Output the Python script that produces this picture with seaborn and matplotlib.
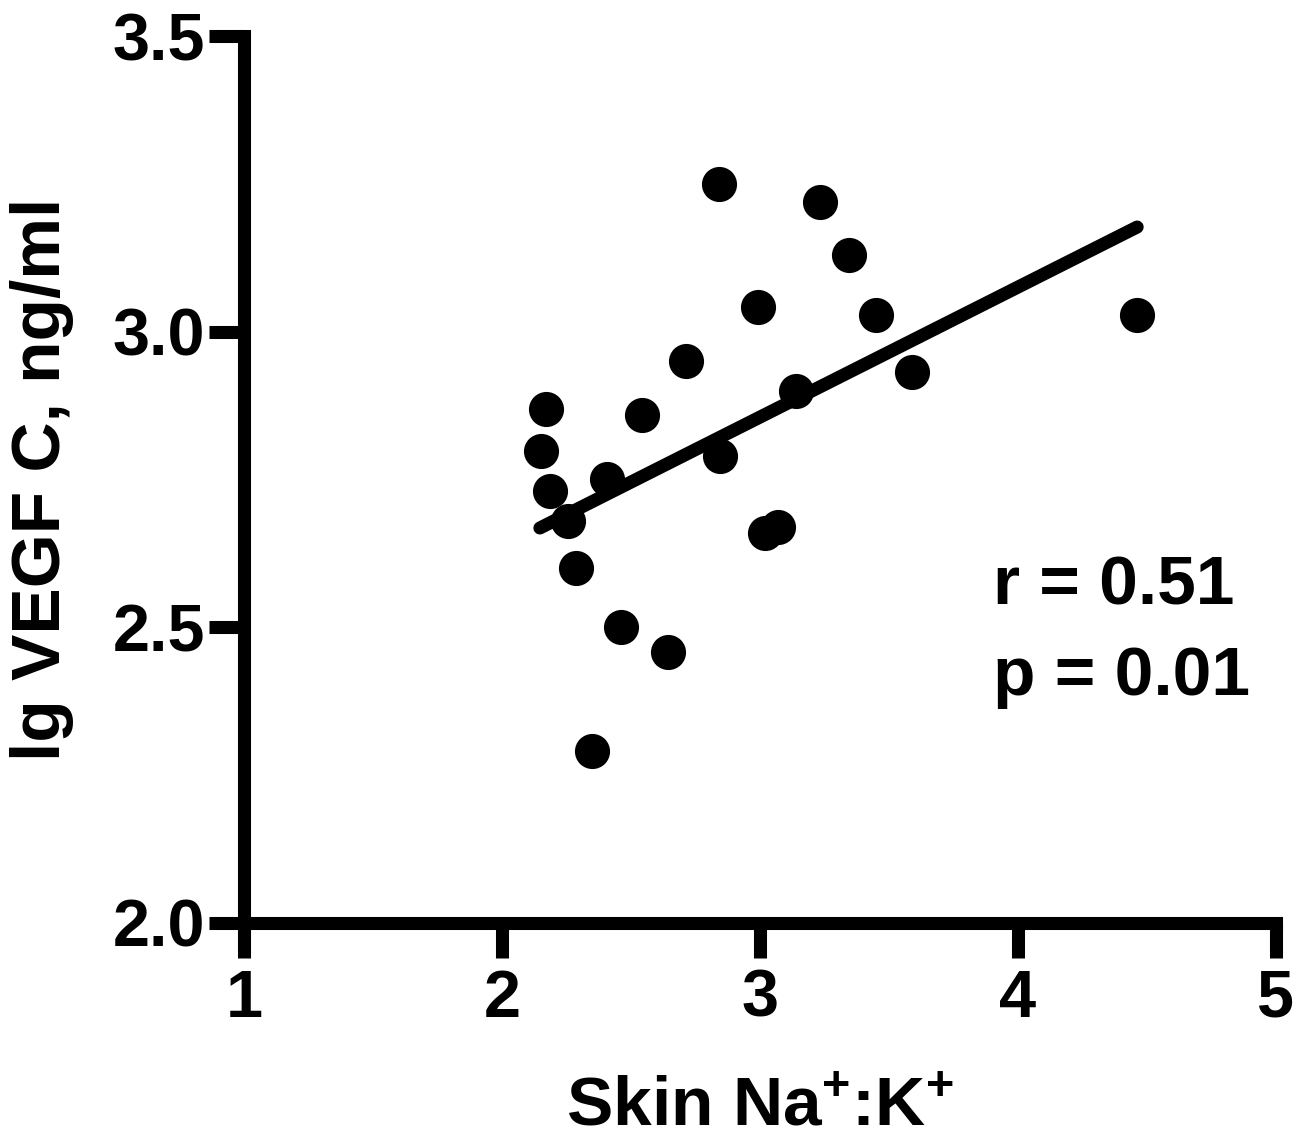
import pandas as pd
import matplotlib
matplotlib.use("Agg")
import matplotlib.pyplot as plt
import seaborn as sns

# --- Data ---
skin_na_k = [2.842, 3.233, 3.345, 2.991, 3.450, 4.461, 2.713, 3.590, 3.140, 2.172, 2.544,
             2.151, 2.845, 2.408, 2.185, 2.255, 3.019, 3.069, 2.287, 2.461, 2.642, 2.349]
lg_vegf_c = [3.250, 3.220, 3.129, 3.041, 3.029, 3.029, 2.950, 2.931, 2.900, 2.870, 2.859,
             2.799, 2.790, 2.751, 2.731, 2.680, 2.660, 2.670, 2.601, 2.501, 2.459, 2.291]
# regression line as drawn in the figure (ends at min / max x)
fit_x = [2.147, 4.462]
fit_y = [2.668, 3.177]
x_ticks = [1, 2, 3, 4, 5]
y_ticks = [2.0, 2.5, 3.0, 3.5]
stats_text = ["r = 0.51", "p = 0.01"]

df = pd.DataFrame({"skin": skin_na_k, "vegf": lg_vegf_c})
df_fit = pd.DataFrame({"skin": fit_x, "vegf": fit_y})

sns.set_style("ticks")
plt.rcParams['font.family'] = ['Liberation Sans', 'DejaVu Sans']
plt.rcParams['font.weight'] = 'bold'
plt.rcParams['text.color'] = 'black'
plt.rcParams['axes.labelcolor'] = 'black'
plt.rcParams['xtick.color'] = 'black'
plt.rcParams['ytick.color'] = 'black'
plt.rcParams['mathtext.fontset'] = 'custom'
plt.rcParams['mathtext.rm'] = 'Liberation Sans:bold'
plt.rcParams['mathtext.bf'] = 'Liberation Sans:bold'
plt.rcParams['mathtext.default'] = 'bf'

LW = 9.4

fig = plt.figure(figsize=(13.13, 11.44), dpi=100)
ax = fig.add_axes([0.1858, 0.1932, 0.9718 - 0.1858, 0.9685 - 0.1932])

sns.scatterplot(data=df, x="skin", y="vegf", ax=ax, s=640, color="black",
                linewidth=0, zorder=3, legend=False)
sns.lineplot(data=df_fit, x="skin", y="vegf", ax=ax, color="black", lw=LW,
             solid_capstyle="round", zorder=4)

ax.set_xlim(1, 5)
ax.set_ylim(2.0, 3.5)
ax.set_xticks(x_ticks)
ax.set_xticklabels([str(t) for t in x_ticks])
ax.set_yticks(y_ticks)
ax.set_yticklabels([f"{t:.1f}" for t in y_ticks])

for side in ["top", "right"]:
    ax.spines[side].set_visible(False)
for side in ["left", "bottom"]:
    ax.spines[side].set_linewidth(LW)
    ax.spines[side].set_color("black")
    ax.spines[side].set_capstyle("projecting")

ax.tick_params(axis="both", length=25, width=LW, color="black", labelsize=48, labelcolor="black")
ax.tick_params(axis="x", pad=8)
ax.tick_params(axis="y", pad=3)
for lab in ax.get_xticklabels() + ax.get_yticklabels():
    lab.set_fontweight("bold")

ax.set_xlabel(r"Skin Na$^{+}$:K$^{+}$", fontsize=50, fontweight="bold", labelpad=32)
ax.set_ylabel("lg VEGF C, ng/ml", fontsize=50, fontweight="bold", labelpad=28)

ax.text(3.903, 2.538, stats_text[0], fontsize=50, fontweight="bold", va="baseline", ha="left")
ax.text(3.903, 2.386, stats_text[1], fontsize=50, fontweight="bold", va="baseline", ha="left")

fig.savefig("out.png", dpi=100, facecolor="white")
